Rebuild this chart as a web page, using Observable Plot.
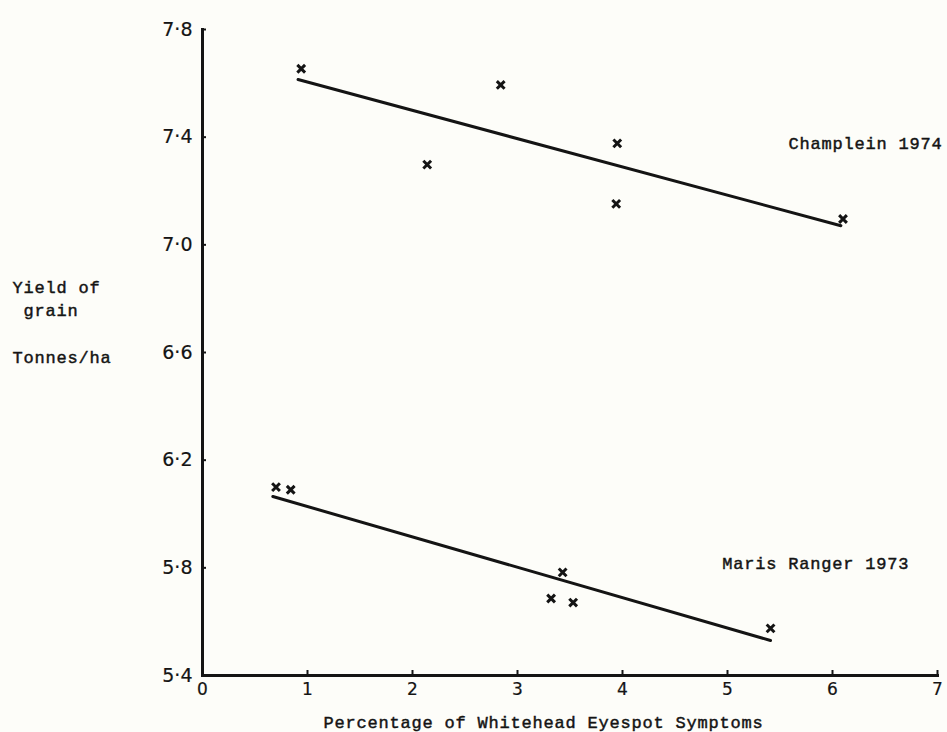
<!DOCTYPE html>
<html><head><meta charset="utf-8">
<script src="https://cdn.jsdelivr.net/npm/d3@7"></script>
<script src="https://cdn.jsdelivr.net/npm/@observablehq/plot@0.6"></script>
<style>
html,body{margin:0;padding:0;background:#fdfdf9;}
#chart svg{display:block;}
g[aria-label="text"] text{letter-spacing:0.8px;white-space:pre;stroke:#141414;stroke-width:0.45px;}
g[aria-label="y-axis tick label"] text, g[aria-label="x-axis tick label"] text{stroke:#141414;stroke-width:0.2px;}
</style></head><body><div id="chart"></div>
<script>
// Observed points
const champleinX = [0.94, 2.14, 2.84, 3.95, 3.94, 6.10];
const champleinY = [7.654, 7.298, 7.594, 7.377, 7.152, 7.096];
const marisX = [0.70, 0.84, 3.32, 3.43, 3.53, 5.41];
const marisY = [6.10, 6.09, 5.686, 5.783, 5.671, 5.575];
// Fitted regression lines (end points)
const champleinFitX = [0.91, 6.08];
const champleinFitY = [7.614, 7.071];
const marisFitX = [0.67, 5.41];
const marisFitY = [6.065, 5.530];
// Series labels and their anchors (data units)
const seriesNames = ["Champlein 1974", "Maris Ranger 1973"];
const seriesLabelX = [5.58, 4.95];
const seriesLabelY = [7.376, 5.816];
// Axes
const xTicks = [0, 1, 2, 3, 4, 5, 6, 7];
const yTicks = [5.4, 5.8, 6.2, 6.6, 7.0, 7.4, 7.8];
const yTitle = "Yield of\n grain\n\nTonnes/ha";
const xTitle = "Percentage of Whitehead Eyespot Symptoms";

const points = [
  ...champleinX.map((x, i) => ({x, y: champleinY[i], s: seriesNames[0]})),
  ...marisX.map((x, i) => ({x, y: marisY[i], s: seriesNames[1]}))
];
const fits = [
  ...champleinFitX.map((x, i) => ({x, y: champleinFitY[i], s: seriesNames[0]})),
  ...marisFitX.map((x, i) => ({x, y: marisFitY[i], s: seriesNames[1]}))
];
const labels = seriesNames.map((t, i) => ({t, x: seriesLabelX[i], y: seriesLabelY[i]}));

const ink = "#141414";
const mono = "'Courier New', 'Liberation Mono', monospace";

const chart = Plot.plot({
  width: 947,
  height: 732,
  marginLeft: 202,
  marginRight: 10,
  marginTop: 29,
  marginBottom: 57,
  x: {domain: [0, 7]},
  y: {domain: [5.4, 7.8]},
  style: {background: "transparent", color: ink, fontFamily: "'DejaVu Sans', sans-serif"},
  marks: [
    Plot.frame({anchor: "left", stroke: ink, strokeWidth: 3}),
    Plot.frame({anchor: "bottom", stroke: ink, strokeWidth: 3}),
    Plot.axisX({ticks: xTicks, tickSize: -5, tickPadding: 12, strokeWidth: 2, fontSize: 17,
      label: null, tickFormat: d => String(d)}),
    Plot.axisY({ticks: yTicks, tickSize: -4, tickPadding: 14, strokeWidth: 2, fontSize: 19,
      label: null, tickFormat: d => d.toFixed(1).replace(".", "\u00B7")}),
    Plot.line(fits, {x: "x", y: "y", z: "s", stroke: ink, strokeWidth: 3}),
    Plot.dot(points, {x: "x", y: "y", symbol: "times", r: 3.6, stroke: ink, strokeWidth: 3}),
    Plot.text(labels, {x: "x", y: "y", text: "t", textAnchor: "start", fontFamily: mono,
      fontSize: 17, fill: ink}),
    Plot.text([yTitle], {frameAnchor: "left", text: d => d, textAnchor: "start", lineAnchor: "bottom",
      dx: -190, dy: 10, lineHeight: 1.37, fontFamily: mono, fontSize: 17, fill: ink}),
    Plot.text([xTitle], {frameAnchor: "bottom-left", text: d => d, textAnchor: "start", lineAnchor: "bottom",
      dx: 121, dy: 52, fontFamily: mono, fontSize: 17, fill: ink})
  ]
});
document.getElementById("chart").appendChild(chart);
</script>
</body></html>
